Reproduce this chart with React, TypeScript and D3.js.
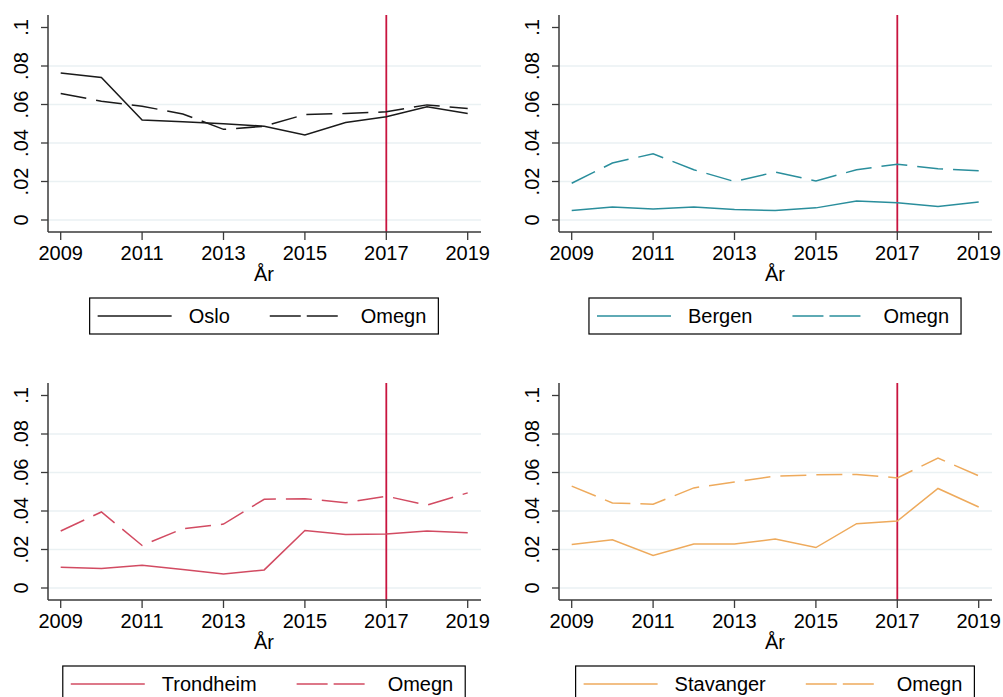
import React from 'react';
import * as d3 from 'd3';

const years = [2009, 2010, 2011, 2012, 2013, 2014, 2015, 2016, 2017, 2018, 2019];
const xTicks = [2009, 2011, 2013, 2015, 2017, 2019];
const yTicks = [0, 0.02, 0.04, 0.06, 0.08, 0.1];
const yTickLabels = ['0', '.02', '.04', '.06', '.08', '.1'];
const gridTicks = [0, 0.02, 0.04, 0.06, 0.08];

const osloCity = [0.0764, 0.074, 0.052, 0.0511, 0.050, 0.0487, 0.0442, 0.0506, 0.0536, 0.0588, 0.0553];
const osloOmegn = [0.0657, 0.0617, 0.0591, 0.0551, 0.0471, 0.0487, 0.0548, 0.0553, 0.0562, 0.0598, 0.0579];
const bergenCity = [0.0049, 0.0068, 0.0057, 0.0068, 0.0054, 0.0049, 0.0063, 0.0099, 0.0089, 0.007, 0.0094];
const bergenOmegn = [0.0191, 0.0296, 0.0344, 0.0261, 0.02, 0.0249, 0.0203, 0.0261, 0.029, 0.0266, 0.0256];
const trondheimCity = [0.0108, 0.0101, 0.0118, 0.0096, 0.0073, 0.0094, 0.0299, 0.0278, 0.028, 0.0296, 0.0287];
const trondheimOmegn = [0.0296, 0.0395, 0.0221, 0.0308, 0.0332, 0.0461, 0.0464, 0.0443, 0.0477, 0.0431, 0.0494];
const stavangerCity = [0.0226, 0.025, 0.0169, 0.0228, 0.0228, 0.0254, 0.021, 0.0334, 0.0348, 0.0517, 0.0421];
const stavangerOmegn = [0.0529, 0.0442, 0.0435, 0.052, 0.0551, 0.0581, 0.0588, 0.059, 0.0572, 0.0675, 0.0583];

const panels = [
  { name: 'Oslo', city: osloCity, omegn: osloOmegn, color: '#1a1a1a', dx: 0, dy: 0 },
  { name: 'Bergen', city: bergenCity, omegn: bergenOmegn, color: '#2a8e9c', dx: 511, dy: 0 },
  { name: 'Trondheim', city: trondheimCity, omegn: trondheimOmegn, color: '#d24b62', dx: 0, dy: 368 },
  { name: 'Stavanger', city: stavangerCity, omegn: stavangerOmegn, color: '#eeaa5c', dx: 511, dy: 368 },
];

const markerYear = 2017;
const FONT = "'Liberation Sans', Arial, sans-serif";
const FS = 20;
const AXIS = '#3a3a3a';
const GRID = '#eaf1f3';
const VLINE = '#c8143f';

let ctx: CanvasRenderingContext2D | null = null;
function textWidth(s: string) {
  if (!ctx) ctx = document.createElement('canvas').getContext('2d');
  if (!ctx) return s.length * FS * 0.55;
  ctx.font = `${FS}px ${FONT}`;
  return ctx.measureText(s).width;
}

function Panel({ p }) {
  const x = d3.scaleLinear().domain([2009, 2019]).range([60.7, 467.7]);
  const y = d3.scaleLinear().domain([0, 0.1]).range([220, 27.5]);
  const axisX = 48, axisRight = 481, top = 15, axisY = 232;
  const line = d3.line<number>().x((_, i) => x(years[i])).y(d => y(d));

  // legend layout
  const w1 = textWidth(p.name), w2 = textWidth('Omegn');
  const key = 74, pad = 8, gap = 17, colGap = 40, padR = 12;
  const boxW = pad + key + gap + w1 + colGap + key + gap + w2 + padR;
  const boxX = 264 - boxW / 2;
  const boxY = 298, boxH = 36, ly = boxY + boxH / 2;
  const k1 = boxX + pad;
  const t1 = k1 + key + gap;
  const k2 = t1 + w1 + colGap;
  const t2 = k2 + key + gap;

  return (
    <g transform={`translate(${p.dx},${p.dy})`}>
      {gridTicks.map(t => (
        <line key={t} x1={axisX} x2={axisRight} y1={y(t)} y2={y(t)} stroke={GRID} strokeWidth={1.5} />
      ))}
      <line x1={x(markerYear)} x2={x(markerYear)} y1={top} y2={axisY} stroke={VLINE} strokeWidth={1.8} />
      <path d={line(p.omegn) || ''} fill="none" stroke={p.color} strokeWidth={1.5} strokeDasharray="26 10" />
      <path d={line(p.city) || ''} fill="none" stroke={p.color} strokeWidth={1.5} />
      <line x1={axisX} x2={axisX} y1={top} y2={axisY} stroke={AXIS} strokeWidth={1.5} />
      <line x1={axisX} x2={axisRight} y1={axisY} y2={axisY} stroke={AXIS} strokeWidth={1.5} />
      {yTicks.map((t, i) => (
        <g key={t}>
          <line x1={axisX - 7} x2={axisX} y1={y(t)} y2={y(t)} stroke={AXIS} strokeWidth={1.3} />
          <text transform={`translate(${axisX - 20},${y(t)}) rotate(-90)`} textAnchor="middle"
            fontFamily={FONT} fontSize={FS} fill="#000">{yTickLabels[i]}</text>
        </g>
      ))}
      {xTicks.map(t => (
        <g key={t}>
          <line x1={x(t)} x2={x(t)} y1={axisY} y2={axisY + 8} stroke={AXIS} strokeWidth={1.3} />
          <text x={x(t)} y={axisY + 28} textAnchor="middle" fontFamily={FONT} fontSize={FS} fill="#000">{t}</text>
        </g>
      ))}
      <text x={264} y={axisY + 49} textAnchor="middle" fontFamily={FONT} fontSize={FS} fill="#000">År</text>
      <rect x={boxX} y={boxY} width={boxW} height={boxH} fill="#fff" stroke="#000" strokeWidth={1.2} />
      <line x1={k1} x2={k1 + key} y1={ly} y2={ly} stroke={p.color} strokeWidth={1.5} />
      <text x={t1} y={ly + 7} fontFamily={FONT} fontSize={FS} fill="#000">{p.name}</text>
      <line x1={k2} x2={k2 + key} y1={ly} y2={ly} stroke={p.color} strokeWidth={1.5} strokeDasharray="31 6" />
      <text x={t2} y={ly + 7} fontFamily={FONT} fontSize={FS} fill="#000">Omegn</text>
    </g>
  );
}

export default function App() {
  return (
    <svg width={1003} height={697} style={{ position: 'absolute', left: 0, top: 0, background: '#fff' }}>
      <rect width={1003} height={697} fill="#fff" />
      {panels.map(p => <Panel key={p.name} p={p} />)}
    </svg>
  );
}
